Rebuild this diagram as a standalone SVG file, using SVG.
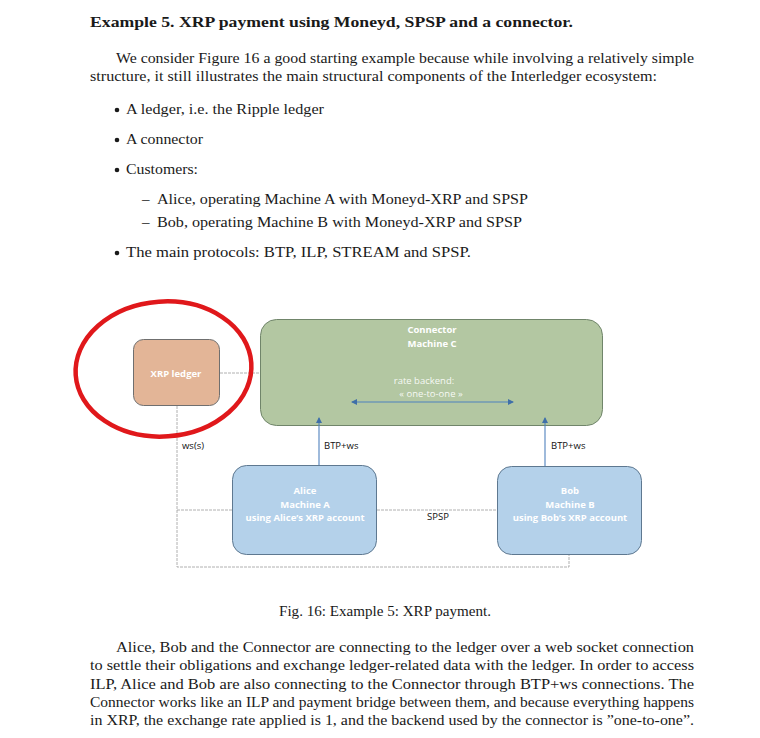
<svg xmlns="http://www.w3.org/2000/svg" width="760" height="738" viewBox="0 0 760 738">
<style>
.t{font-family:"Liberation Serif","DejaVu Serif",serif;font-size:15px;fill:#1a1a1a}
.b{font-weight:bold}
.d{font-family:"Open Sans","Liberation Sans",sans-serif;font-size:9.5px}
.w{fill:#ffffff;text-anchor:middle}
.wb{fill:#ffffff;text-anchor:middle;font-weight:bold}
.k{fill:#111111}
.g{fill:none;stroke:#9c9c9c;stroke-width:0.8;stroke-dasharray:3 1}
.a{fill:none;stroke:#4f81bd;stroke-width:1.1}
</style>
<defs>
<marker id="ah" viewBox="0 0 6 6" refX="5" refY="3" markerWidth="6" markerHeight="6" markerUnits="userSpaceOnUse" orient="auto-start-reverse">
<path d="M0,0 L6,3 L0,6 z" fill="#3f6fa8"/>
</marker>
</defs>
<rect width="760" height="738" fill="#ffffff"/>
<g id="body-text">
<text class="t b" x="90" y="27" textLength="483" lengthAdjust="spacingAndGlyphs">Example 5. XRP payment using Moneyd, SPSP and a connector.</text>
<text class="t" x="116" y="63" textLength="578" lengthAdjust="spacingAndGlyphs">We consider Figure 16 a good starting example because while involving a relatively simple</text>
<text class="t" x="90" y="81" textLength="567" lengthAdjust="spacingAndGlyphs">structure, it still illustrates the main structural components of the Interledger ecosystem:</text>
<circle cx="117" cy="110" r="2.3" fill="#1a1a1a"/>
<text class="t" x="126" y="114" textLength="198" lengthAdjust="spacingAndGlyphs">A ledger, i.e. the Ripple ledger</text>
<circle cx="117" cy="140" r="2.3" fill="#1a1a1a"/>
<text class="t" x="126" y="144" textLength="77" lengthAdjust="spacingAndGlyphs">A connector</text>
<circle cx="117" cy="170" r="2.3" fill="#1a1a1a"/>
<text class="t" x="126" y="174" textLength="72" lengthAdjust="spacingAndGlyphs">Customers:</text>
<text class="t" x="142" y="204">–</text>
<text class="t" x="157" y="204" textLength="371" lengthAdjust="spacingAndGlyphs">Alice, operating Machine A with Moneyd-XRP and SPSP</text>
<text class="t" x="142" y="227">–</text>
<text class="t" x="157" y="227" textLength="365" lengthAdjust="spacingAndGlyphs">Bob, operating Machine B with Moneyd-XRP and SPSP</text>
<circle cx="117" cy="253" r="2.3" fill="#1a1a1a"/>
<text class="t" x="126" y="257" textLength="345" lengthAdjust="spacingAndGlyphs">The main protocols: BTP, ILP, STREAM and SPSP.</text>
<text class="t" x="279" y="616" textLength="212" lengthAdjust="spacingAndGlyphs">Fig. 16: Example 5: XRP payment.</text>
<text class="t" x="116" y="652" textLength="578" lengthAdjust="spacingAndGlyphs">Alice, Bob and the Connector are connecting to the ledger over a web socket connection</text>
<text class="t" x="90" y="670" textLength="604" lengthAdjust="spacingAndGlyphs">to settle their obligations and exchange ledger-related data with the ledger. In order to access</text>
<text class="t" x="90" y="689" textLength="604" lengthAdjust="spacingAndGlyphs">ILP, Alice and Bob are also connecting to the Connector through BTP+ws connections. The</text>
<text class="t" x="90" y="707" textLength="604" lengthAdjust="spacingAndGlyphs">Connector works like an ILP and payment bridge between them, and because everything happens</text>
<text class="t" x="90" y="725" textLength="604" lengthAdjust="spacingAndGlyphs">in XRP, the exchange rate applied is 1, and the backend used by the connector is ”one-to-one”.</text>
</g>
<g id="xrp-ledger">
<rect x="133.5" y="339.5" width="86" height="66" rx="10" fill="#e3b597" stroke="#6f6f6f" stroke-width="1"/>
<text class="d wb" x="176" y="377">XRP ledger</text>
</g>
<g id="connector">
<rect x="260.5" y="319.5" width="342" height="106" rx="16" fill="#b3c7a2" stroke="#70856a" stroke-width="1"/>
<text class="d wb" x="432" y="333">Connector</text>
<text class="d wb" x="432" y="347">Machine C</text>
<text class="d w" x="424" y="384" fill-opacity="0.9">rate backend:</text>
<text class="d w" x="431" y="397" fill-opacity="0.9">« one-to-one »</text>
</g>
<g id="alice">
<rect x="232.5" y="465.5" width="144" height="89" rx="14" fill="#b4d1ea" stroke="#5e7890" stroke-width="1"/>
<text class="d wb" x="305" y="494">Alice</text>
<text class="d wb" x="305" y="508">Machine A</text>
<text class="d wb" x="305" y="521">using Alice’s XRP account</text>
</g>
<g id="bob">
<rect x="497.5" y="466.5" width="144" height="88" rx="14" fill="#b4d1ea" stroke="#5e7890" stroke-width="1"/>
<text class="d wb" x="570" y="494">Bob</text>
<text class="d wb" x="570" y="508">Machine B</text>
<text class="d wb" x="570" y="521">using Bob’s XRP account</text>
</g>
<g id="connectors">
<path class="g" d="M220,373 H260"/>
<path class="g" d="M177,406 V567 H569 V555"/>
<path class="g" d="M177,510 H232"/>
<path class="g" d="M377,510 H497"/>
<path class="a" d="M319,465 V418" marker-end="url(#ah)"/>
<path class="a" d="M545,466 V418" marker-end="url(#ah)"/>
<path class="a" d="M352,402 H513" marker-start="url(#ah)" marker-end="url(#ah)"/>
<text class="d k" x="182" y="449">ws(s)</text>
<text class="d k" x="324" y="449">BTP+ws</text>
<text class="d k" x="551" y="449">BTP+ws</text>
<text class="d k" x="427" y="520">SPSP</text>
</g>
<g id="highlight">
<ellipse cx="163.5" cy="369" rx="88" ry="67.5" fill="none" stroke="#e0181b" stroke-width="4.5" transform="rotate(-4 163.5 369)"/>
</g>
</svg>
